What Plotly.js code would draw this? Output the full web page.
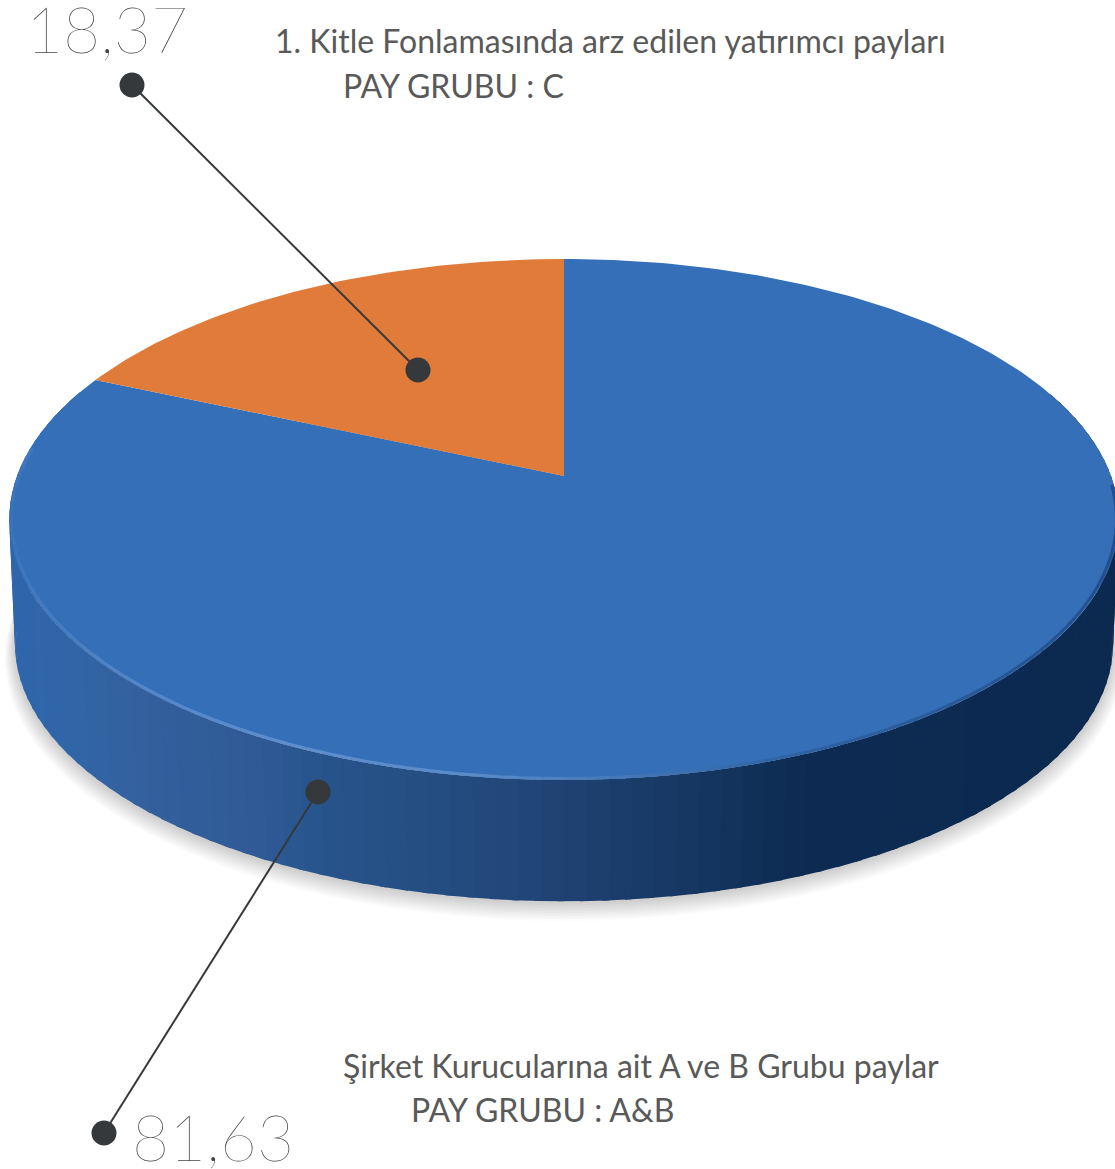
<!DOCTYPE html>
<html><head><meta charset="utf-8">
<script src="https://cdn.plot.ly/plotly-3.0.1.min.js"></script>
<style>html,body{margin:0;padding:0;background:#fff}#c{width:1115px;height:1169px}</style>
</head><body><div id="c"></div>
<script>
// ---- data ----
const categories = ["Şirket Kurucularına ait A ve B Grubu paylar", "1. Kitle Fonlamasında arz edilen yatırımcı payları"];
const groups = ["PAY GRUBU : A&B", "PAY GRUBU : C"];
const shares = [81.63, 18.37];
const shareLabels = ["81,63", "18,37"];
const sliceColors = ["#346fb7", "#e07b39"];
const wallX = [0, 60, 130, 250, 320, 450, 564, 700, 800, 1115];
const wallC = ["#2f66ac", "#3066a8", "#34609e", "#2f5a96", "#27548c", "#244c80", "#1f4272", "#153660", "#0d2b52", "#0c2a50"];
const rimX = [0, 30, 120, 300, 480, 640, 800, 1000, 1115];
const rimC = ["#346fb7", "#4279be", "#5385c7", "#5f8ecd", "#5a89c9", "#4375b5", "#2f62a3", "#285796", "#234f8e"];

// ---- perspective disc geometry ----
const CX = 564, AY = 476, TILT = 0.167, R = 547, B = 253.2, DEPTH = 125;
function project(deg, k, dy) {
  const t = deg * Math.PI / 180, u = Math.sin(t) * k, v = Math.cos(t) * k, w = 1 + TILT * v;
  return [CX + R * u / w, AY - B * v / w + dy];
}
function hex(c) { return [1, 3, 5].map(i => parseInt(c.substr(i, 2), 16)); }
function ramp(xs, cs, x) {
  let i = 0; while (i < xs.length - 2 && x > xs[i + 1]) i++;
  const f = Math.max(0, Math.min(1, (x - xs[i]) / (xs[i + 1] - xs[i])));
  const a = hex(cs[i]), b = hex(cs[i + 1]);
  return "rgb(" + a.map((q, j) => Math.round(q + (b[j] - q) * f)).join(",") + ")";
}
const traces = [];
function poly(pts, color) {
  traces.push({ type: "scatter", mode: "lines", x: pts.map(p => p[0]), y: pts.map(p => p[1]),
    fill: "toself", fillcolor: color, line: { width: 0, color: color }, hoverinfo: "skip", showlegend: false });
}
// soft shadow
for (let i = 12; i >= 1; i--) {
  const pts = []; const k = 0.99 + i * 0.0015;
  for (let d = 0; d <= 360; d += 3) pts.push(project(d, k, DEPTH + 1 + i * 1.0));
  poly(pts, "rgba(0,0,0,0.015)");
}
// side wall
const step = 2;
for (let d = 70; d < 290; d += step) {
  const a = project(d, 1, 0), b = project(d + step + 0.6, 1, 0);
  const c = project(d + step + 0.6, 0.99, DEPTH), e = project(d, 0.99, DEPTH);
  poly([a, b, c, e, a], ramp(wallX, wallC, (a[0] + b[0]) / 2));
}
// top face, slices from the shares: clockwise from 12 o'clock
let cum = 0;
const total = shares.reduce((s, v) => s + v, 0);
shares.forEach((v, i) => {
  const d0 = cum / total * 360, d1 = (cum + v) / total * 360; cum += v;
  const pts = [[CX, AY]];
  for (let d = d0; d < d1; d += 1) pts.push(project(d, 1, 0));
  pts.push(project(d1, 1, 0)); pts.push([CX, AY]);
  traces.push({ type: "scatter", mode: "lines", name: categories[i], x: pts.map(p => p[0]), y: pts.map(p => p[1]),
    fill: "toself", fillcolor: sliceColors[i], line: { width: 0, color: sliceColors[i] }, hoverinfo: "skip", showlegend: false });
});
// bevel highlight on the front rim
for (let d = 92; d < 276; d += step) {
  const a = project(d, 0.996, 0), b = project(d + step + 0.4, 0.996, 0);
  traces.push({ type: "scatter", mode: "lines", x: [a[0], b[0]], y: [a[1], b[1]],
    line: { width: 3, color: ramp(rimX, rimC, (a[0] + b[0]) / 2) }, hoverinfo: "skip", showlegend: false });
}
// leader lines
function leader(x, y) {
  traces.push({ type: "scatter", mode: "lines+markers", x: x, y: y,
    line: { width: 2, color: "#36393b" }, marker: { size: 25, color: "#36393b" }, hoverinfo: "skip", showlegend: false });
}
leader([132, 418], [85, 370]);
leader([318, 104], [792, 1133]);

const labelFont = { family: "Lato", size: 32, color: "#595959" };
const numFont = { family: "Lato", size: 64, color: "#454545", weight: 100 };
function note(text, x, y, font) {
  return { text: text, x: x, y: y, xref: "x", yref: "y", xanchor: "left", yanchor: "middle", showarrow: false, font: font, borderpad: 0, borderwidth: 0 };
}
const annotations = [
  note(shareLabels[1], 26, 28, numFont),
  note(categories[1], 275, 40, labelFont),
  note(groups[1], 343, 85, labelFont),
  note(categories[0], 343, 1065, labelFont),
  note(groups[0], 411, 1109, labelFont),
  note(shareLabels[0], 132, 1136, numFont)
];
Plotly.newPlot("c", traces, {
  width: 1115, height: 1169, margin: { l: 0, r: 0, t: 0, b: 0, pad: 0 },
  paper_bgcolor: "#fff", plot_bgcolor: "#fff", showlegend: false, hovermode: false,
  xaxis: { range: [0, 1115], visible: false, fixedrange: true },
  yaxis: { range: [1169, 0], visible: false, fixedrange: true },
  annotations: annotations
}, { staticPlot: true, displayModeBar: false });
</script></body></html>
